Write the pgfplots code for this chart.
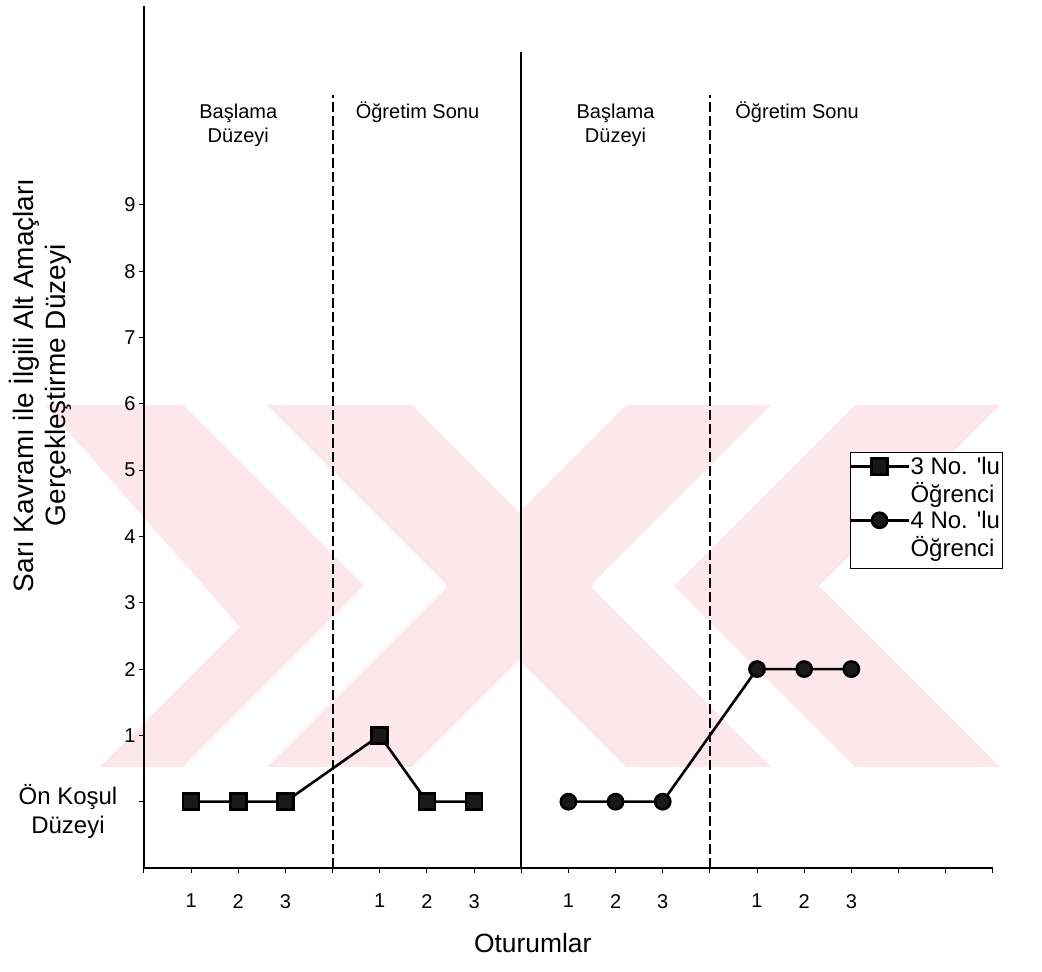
\documentclass[border=0pt]{standalone}
\usepackage{pgfplots}
\pgfplotsset{compat=1.18}
\usepackage{fontspec}
\setmainfont{Liberation Sans}[Ligatures=TeXOff]
\definecolor{wm}{RGB}{252,232,236}
\begin{document}
\fontsize{10pt}{12pt}\selectfont
\begin{tikzpicture}
\path[use as bounding box] (-72pt,-52pt) rectangle (449pt,434pt);
% watermark (background decoration), pixel coordinates of the page
\begin{scope}[shift={(-72pt,434pt)}, x=0.5pt, y=-0.5pt]
\fill[wm] (45,405) -- (183,405) -- (364,586) -- (183,767) -- (100,767) -- (240,627) -- cycle;
\fill[wm] (267,405) -- (412,405) -- (593,586) -- (412,767) -- (267,767) -- (448,586) -- cycle;
\fill[wm] (1000,405) -- (855,405) -- (674,586) -- (855,767) -- (1000,767) -- (819,586) -- cycle;
\fill[wm] (771,405) -- (626,405) -- (445,586) -- (626,767) -- (771,767) -- (590,586) -- cycle;
\end{scope}
\begin{axis}[
  at={(0,0)}, anchor=south west,
  scale only axis, width=424.4pt, height=431pt,
  xmin=0, xmax=18, ymin=-1, ymax=12,
  axis x line*=bottom, axis y line*=left,
  axis line style={line width=0.7pt},
  xtick={0,...,18},
  xticklabels={,1,2,3,,1,2,3,,1,2,3,,1,2,3,,,},
  ytick={0,...,9},
  yticklabels={,1,2,3,4,5,6,7,8,9},
  tick align=outside, major tick length=2.5pt,
  tick style={black, line width=0.5pt},
  /pgf/number format/assume math mode=true,
  xticklabel style={yshift=-7pt},
  yticklabel style={inner sep=1.5pt},
  xlabel={Oturumlar},
  xlabel style={at={(axis description cs:0.458,-0.087)}, anchor=center, font=\fontsize{13.2pt}{15pt}\selectfont},
  ylabel={Sarı Kavramı ile İlgili Alt Amaçları\\Gerçekleştirme Düzeyi},
  ylabel style={at={(axis description cs:-0.1225,0.56)}, anchor=center, align=center, font=\fontsize{14pt}{16pt}\selectfont},
  clip=false,
  legend style={at={(axis description cs:0.8318,0.4826)}, anchor=north west,
    draw=black, line width=0.5pt, inner xsep=0pt, inner ysep=2pt, row sep=0pt,
    nodes={inner xsep=1pt, inner ysep=0pt, text depth=},
    cells={anchor=west}, font=\fontsize{12pt}{13pt}\selectfont},
  legend image code/.code={\path[draw=none,fill=none] (0pt,0pt) -- (29pt,0pt);\draw[overlay,mark repeat=2,mark phase=2,#1] plot coordinates {(0pt,8.5pt) (14.5pt,8.5pt) (29pt,8.5pt)};},
]
% phase separators
\addplot[black, line width=1pt, dash pattern=on 5pt off 2pt, forget plot] coordinates {(4,-1) (4,10.66)};
\addplot[black, line width=1.2pt, forget plot] coordinates {(8,-1) (8,11.31)};
\addplot[black, line width=1pt, dash pattern=on 5pt off 2pt, forget plot] coordinates {(12,-1) (12,10.66)};
% data
\addplot[black, line width=1.3pt, mark=square*, mark size=4pt, mark options={solid, fill=black!90}]
  coordinates {(1,0) (2,0) (3,0) (5,1) (6,0) (7,0)};
\addlegendentry{\begin{tabular}[t]{@{}l@{}}3 No. 'lu\\Öğrenci\end{tabular}}
\addplot[black, line width=1.3pt, mark=*, mark size=3.8pt, mark options={solid, fill=black!90}]
  coordinates {(9,0) (10,0) (11,0) (13,2) (14,2) (15,2)};
\addlegendentry{\begin{tabular}[t]{@{}l@{}}4 No. 'lu\\Öğrenci\end{tabular}}
% annotations
\node[align=center] at (axis cs:2,10.2) {Başlama\\Düzeyi};
\node[align=center] at (axis cs:10,10.2) {Başlama\\Düzeyi};
\node at (axis cs:5.8,10.4) {Öğretim Sonu};
\node at (axis cs:13.85,10.4) {Öğretim Sonu};
\node[align=center, xshift=-38pt, font=\fontsize{12pt}{14.5pt}\selectfont] at (axis cs:0,-0.14) {Ön Koşul\\Düzeyi};
\end{axis}
\end{tikzpicture}
\end{document}
